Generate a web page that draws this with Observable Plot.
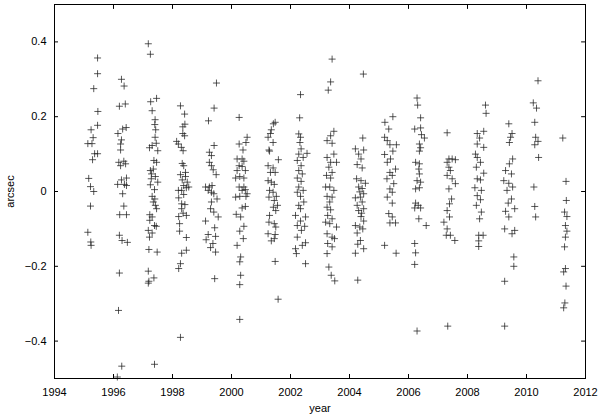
<!DOCTYPE html>
<html><head><meta charset="utf-8">
<script src="https://cdn.jsdelivr.net/npm/d3@7"></script>
<script src="https://cdn.jsdelivr.net/npm/@observablehq/plot@0.6"></script>
<style>body{margin:0;background:#fff}</style>
</head><body><div id="chart"></div>
<script>
// [year, arcsec] per observing season
const s1995 = [[1995.46,0.357],[1995.46,0.315],[1995.33,0.275],[1995.47,0.214],[1995.46,0.177],[1995.24,0.165],[1995.31,0.144],[1995.13,0.128],[1995.27,0.128],[1995.36,0.101],[1995.46,0.101],[1995.29,0.085],[1995.16,0.035],[1995.22,0.013],[1995.33,0.0],[1995.22,-0.039],[1995.13,-0.109],[1995.23,-0.135],[1995.24,-0.144]];
const s1996 = [[1996.27,0.300],[1996.36,0.282],[1996.40,0.234],[1996.20,0.228],[1996.43,0.171],[1996.31,0.167],[1996.15,0.155],[1996.27,0.138],[1996.24,0.127],[1996.24,0.111],[1996.18,0.078],[1996.35,0.081],[1996.41,0.074],[1996.24,0.069],[1996.44,0.036],[1996.27,0.031],[1996.14,0.019],[1996.37,0.019],[1996.44,0.016],[1996.31,-0.006],[1996.35,-0.039],[1996.21,-0.062],[1996.44,-0.062],[1996.20,-0.117],[1996.29,-0.131],[1996.47,-0.136],[1996.20,-0.218],[1996.17,-0.318],[1996.28,-0.467],[1996.13,-0.496]];
const s1997 = [[1997.18,0.395],[1997.25,0.367],[1997.46,0.249],[1997.26,0.240],[1997.31,0.216],[1997.41,0.192],[1997.40,0.179],[1997.43,0.165],[1997.41,0.145],[1997.22,0.117],[1997.31,0.123],[1997.45,0.129],[1997.50,0.109],[1997.37,0.083],[1997.46,0.078],[1997.25,0.056],[1997.35,0.060],[1997.29,0.047],[1997.42,0.040],[1997.28,0.034],[1997.50,0.025],[1997.25,0.018],[1997.39,0.005],[1997.31,-0.013],[1997.40,-0.020],[1997.35,-0.028],[1997.42,-0.037],[1997.46,-0.046],[1997.23,-0.062],[1997.31,-0.068],[1997.23,-0.077],[1997.39,-0.091],[1997.45,-0.093],[1997.18,-0.104],[1997.31,-0.111],[1997.22,-0.122],[1997.20,-0.155],[1997.48,-0.162],[1997.18,-0.213],[1997.37,-0.231],[1997.18,-0.245],[1997.20,-0.240],[1997.39,-0.462]];
const s1998 = [[1998.27,0.229],[1998.41,0.207],[1998.35,0.173],[1998.42,0.180],[1998.35,0.155],[1998.41,0.149],[1998.14,0.134],[1998.20,0.127],[1998.30,0.118],[1998.36,0.109],[1998.33,0.075],[1998.38,0.069],[1998.44,0.051],[1998.27,0.045],[1998.44,0.040],[1998.33,0.031],[1998.50,0.025],[1998.38,0.016],[1998.20,0.003],[1998.31,0.003],[1998.47,0.010],[1998.55,0.012],[1998.38,-0.008],[1998.21,-0.017],[1998.31,-0.033],[1998.42,-0.035],[1998.31,-0.046],[1998.21,-0.067],[1998.47,-0.064],[1998.36,-0.058],[1998.24,-0.086],[1998.24,-0.106],[1998.47,-0.123],[1998.31,-0.165],[1998.47,-0.157],[1998.27,-0.193],[1998.21,-0.206],[1998.27,-0.390]];
const s1999 = [[1999.49,0.290],[1999.41,0.223],[1999.22,0.189],[1999.41,0.123],[1999.25,0.105],[1999.32,0.096],[1999.25,0.078],[1999.32,0.069],[1999.38,0.058],[1999.48,0.045],[1999.12,0.012],[1999.25,0.012],[1999.34,0.016],[1999.21,0.003],[1999.32,-0.002],[1999.40,-0.006],[1999.51,-0.020],[1999.32,-0.028],[1999.29,-0.046],[1999.40,-0.055],[1999.55,-0.068],[1999.12,-0.079],[1999.43,-0.097],[1999.21,-0.115],[1999.46,-0.120],[1999.14,-0.129],[1999.37,-0.139],[1999.29,-0.150],[1999.46,-0.162],[1999.43,-0.233]];
const s2000 = [[2000.26,0.198],[2000.26,0.127],[2000.49,0.131],[2000.53,0.145],[2000.39,0.111],[2000.19,0.087],[2000.36,0.087],[2000.42,0.081],[2000.26,0.069],[2000.36,0.067],[2000.47,0.056],[2000.19,0.056],[2000.28,0.040],[2000.42,0.036],[2000.14,0.036],[2000.26,0.012],[2000.42,0.012],[2000.36,0.003],[2000.47,0.005],[2000.14,-0.015],[2000.28,-0.013],[2000.49,-0.013],[2000.53,-0.006],[2000.36,-0.044],[2000.47,-0.040],[2000.16,-0.061],[2000.31,-0.068],[2000.42,-0.093],[2000.28,-0.106],[2000.40,-0.126],[2000.19,-0.144],[2000.31,-0.175],[2000.28,-0.188],[2000.31,-0.224],[2000.28,-0.249],[2000.28,-0.342]];
const s2001 = [[2001.48,0.185],[2001.42,0.181],[2001.35,0.165],[2001.32,0.155],[2001.24,0.145],[2001.41,0.131],[2001.27,0.111],[2001.29,0.108],[2001.59,0.085],[2001.24,0.069],[2001.41,0.063],[2001.48,0.051],[2001.32,0.051],[2001.24,0.029],[2001.35,0.025],[2001.45,0.019],[2001.29,0.003],[2001.41,-0.002],[2001.52,-0.013],[2001.27,-0.015],[2001.45,-0.024],[2001.56,-0.037],[2001.42,-0.042],[2001.50,-0.051],[2001.29,-0.064],[2001.27,-0.082],[2001.45,-0.086],[2001.50,-0.095],[2001.24,-0.113],[2001.48,-0.115],[2001.45,-0.126],[2001.35,-0.132],[2001.48,-0.187],[2001.58,-0.288]];
const s2002 = [[2002.34,0.259],[2002.31,0.197],[2002.28,0.154],[2002.34,0.145],[2002.32,0.131],[2002.36,0.114],[2002.28,0.100],[2002.56,0.102],[2002.43,0.091],[2002.23,0.083],[2002.36,0.069],[2002.28,0.056],[2002.40,0.047],[2002.23,0.036],[2002.36,0.027],[2002.28,0.012],[2002.43,0.003],[2002.23,-0.002],[2002.34,-0.013],[2002.45,-0.028],[2002.28,-0.037],[2002.34,-0.046],[2002.17,-0.064],[2002.51,-0.068],[2002.34,-0.079],[2002.23,-0.091],[2002.48,-0.093],[2002.37,-0.104],[2002.23,-0.122],[2002.51,-0.137],[2002.40,-0.144],[2002.17,-0.153],[2002.20,-0.166],[2002.51,-0.193]];
const s2003 = [[2003.41,0.354],[2003.36,0.293],[2003.28,0.271],[2003.47,0.161],[2003.36,0.149],[2003.24,0.136],[2003.41,0.129],[2003.47,0.100],[2003.24,0.091],[2003.36,0.078],[2003.56,0.078],[2003.30,0.065],[2003.41,0.051],[2003.22,0.043],[2003.36,0.036],[2003.19,0.012],[2003.33,0.012],[2003.47,0.003],[2003.24,-0.013],[2003.41,-0.015],[2003.33,-0.028],[2003.24,-0.042],[2003.36,-0.049],[2003.26,-0.064],[2003.41,-0.073],[2003.19,-0.082],[2003.33,-0.086],[2003.56,-0.095],[2003.24,-0.113],[2003.41,-0.122],[2003.49,-0.126],[2003.26,-0.139],[2003.41,-0.148],[2003.24,-0.166],[2003.30,-0.202],[2003.38,-0.224],[2003.50,-0.239]];
const s2004 = [[2004.47,0.314],[2004.45,0.143],[2004.20,0.114],[2004.48,0.111],[2004.31,0.100],[2004.39,0.087],[2004.26,0.072],[2004.43,0.063],[2004.24,0.034],[2004.39,0.029],[2004.54,0.022],[2004.31,0.012],[2004.43,0.008],[2004.35,-0.001],[2004.48,-0.006],[2004.20,-0.017],[2004.37,-0.015],[2004.43,-0.028],[2004.26,-0.037],[2004.48,-0.046],[2004.31,-0.051],[2004.41,-0.058],[2004.39,-0.067],[2004.48,-0.079],[2004.20,-0.091],[2004.35,-0.095],[2004.45,-0.100],[2004.26,-0.111],[2004.37,-0.131],[2004.28,-0.141],[2004.48,-0.153],[2004.20,-0.165],[2004.28,-0.237]];
const s2005 = [[2005.47,0.200],[2005.20,0.185],[2005.33,0.167],[2005.19,0.145],[2005.28,0.136],[2005.37,0.125],[2005.59,0.125],[2005.47,0.108],[2005.19,0.099],[2005.39,0.087],[2005.28,0.078],[2005.56,0.060],[2005.37,0.051],[2005.45,0.043],[2005.27,0.034],[2005.50,0.021],[2005.37,0.007],[2005.45,-0.002],[2005.28,-0.015],[2005.45,-0.031],[2005.33,-0.059],[2005.45,-0.068],[2005.37,-0.084],[2005.56,-0.084],[2005.19,-0.144],[2005.58,-0.165]];
const s2006 = [[2006.29,0.250],[2006.31,0.231],[2006.41,0.197],[2006.21,0.167],[2006.41,0.170],[2006.44,0.152],[2006.54,0.143],[2006.37,0.127],[2006.41,0.117],[2006.37,0.108],[2006.24,0.078],[2006.37,0.074],[2006.35,0.060],[2006.37,0.047],[2006.29,0.029],[2006.41,0.025],[2006.24,0.007],[2006.37,0.010],[2006.24,-0.031],[2006.33,-0.037],[2006.21,-0.044],[2006.41,-0.044],[2006.35,-0.073],[2006.60,-0.091],[2006.21,-0.139],[2006.24,-0.164],[2006.21,-0.195],[2006.29,-0.373]];
const s2007 = [[2007.31,0.157],[2007.37,0.087],[2007.48,0.087],[2007.59,0.085],[2007.31,0.078],[2007.37,0.065],[2007.42,0.056],[2007.31,0.043],[2007.48,0.034],[2007.59,0.021],[2007.37,0.007],[2007.46,-0.020],[2007.39,-0.033],[2007.31,-0.051],[2007.39,-0.068],[2007.20,-0.082],[2007.31,-0.100],[2007.28,-0.117],[2007.42,-0.117],[2007.57,-0.131],[2007.33,-0.360]];
const s2008 = [[2008.61,0.231],[2008.63,0.209],[2008.33,0.155],[2008.55,0.161],[2008.41,0.143],[2008.55,0.118],[2008.33,0.127],[2008.27,0.100],[2008.33,0.091],[2008.44,0.078],[2008.30,0.065],[2008.55,0.049],[2008.33,0.034],[2008.44,0.031],[2008.25,0.010],[2008.47,0.003],[2008.33,-0.011],[2008.44,-0.022],[2008.30,-0.037],[2008.47,-0.055],[2008.41,-0.073],[2008.38,-0.117],[2008.53,-0.117],[2008.38,-0.132],[2008.38,-0.147]];
const s2009 = [[2009.40,0.181],[2009.51,0.155],[2009.46,0.145],[2009.42,0.131],[2009.53,0.087],[2009.42,0.074],[2009.29,0.056],[2009.49,0.047],[2009.23,0.029],[2009.40,0.022],[2009.53,0.012],[2009.34,0.003],[2009.49,-0.020],[2009.38,-0.031],[2009.60,-0.046],[2009.29,-0.053],[2009.40,-0.068],[2009.26,-0.100],[2009.60,-0.104],[2009.51,-0.113],[2009.57,-0.175],[2009.57,-0.200],[2009.26,-0.240],[2009.26,-0.360]];
const s2010 = [[2010.39,0.296],[2010.23,0.237],[2010.34,0.223],[2010.28,0.185],[2010.31,0.145],[2010.39,0.134],[2010.28,0.125],[2010.41,0.091],[2010.25,0.012],[2010.28,-0.040],[2010.31,-0.068]];
const s2011 = [[2011.23,0.143],[2011.34,0.027],[2011.35,-0.024],[2011.29,-0.055],[2011.37,-0.067],[2011.32,-0.091],[2011.37,-0.106],[2011.32,-0.122],[2011.29,-0.148],[2011.32,-0.206],[2011.26,-0.215],[2011.34,-0.253],[2011.30,-0.298],[2011.26,-0.311]];

const xTicks = [1994, 1996, 1998, 2000, 2002, 2004, 2006, 2008, 2010, 2012];
const yTicks = [-0.4, -0.2, 0, 0.2, 0.4];

const points = [s1995,s1996,s1997,s1998,s1999,s2000,s2001,s2002,s2003,s2004,s2005,s2006,s2007,s2008,s2009,s2010,s2011]
  .flat().map(([year, arcsec]) => ({year, arcsec}));

const plusSymbol = {
  draw(ctx, size) {
    const r = Math.sqrt(size / Math.PI);
    ctx.moveTo(-r, 0); ctx.lineTo(r, 0);
    ctx.moveTo(0, -r); ctx.lineTo(0, r);
  }
};
const tickShape = {
  draw(ctx, l) { ctx.moveTo(0, 0); ctx.lineTo(0, -l); }
};

const yFmt = d => d === 0 ? "0" : d3.format(".1f")(d);
const font = "Liberation Sans, Arial, sans-serif";

const chart = Plot.plot({
  width: 600, height: 415,
  marginLeft: 54, marginRight: 15, marginTop: 4, marginBottom: 37,
  style: {fontFamily: font, fontSize: "11px", background: "#fff", color: "#000"},
  x: {domain: [1994, 2012]},
  y: {domain: [-0.5, 0.5]},
  marks: [
    Plot.dot(points, {x: "year", y: "arcsec", symbol: plusSymbol, r: 3.5, fill: "none", stroke: "#222", strokeOpacity: 0.75, strokeWidth: 1}),
    Plot.axisX(xTicks, {anchor: "bottom", tickSize: -4, tickPadding: 14, tickFormat: d => String(d), label: "year", labelAnchor: "center", labelArrow: "none", labelOffset: 33, fontSize: 11}),
    Plot.axisY(yTicks, {anchor: "left", tickSize: -4, tickPadding: 12, tickFormat: yFmt, label: "arcsec", labelAnchor: "center", labelArrow: "none", labelOffset: 48, fontSize: 11}),
    // inward ticks on the top and right edges (no labels)
    Plot.vector(xTicks, {x: d => d, frameAnchor: "top", anchor: "start", length: 4, rotate: 180, shape: tickShape, stroke: "#000", strokeWidth: 1}),
    Plot.vector(yTicks, {y: d => d, frameAnchor: "right", anchor: "start", length: 4, rotate: -90, shape: tickShape, stroke: "#000", strokeWidth: 1}),
    Plot.frame({stroke: "#000", strokeWidth: 1})
  ]
});
document.getElementById("chart").appendChild(chart);
</script></body></html>
